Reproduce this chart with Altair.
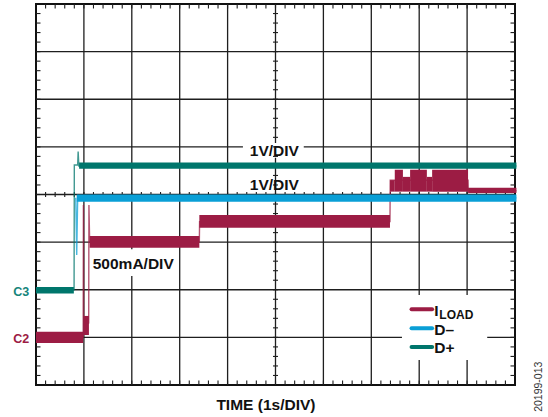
import altair as alt
import pandas as pd

# ---------------- data (oscilloscope divisions: x 0..10, y 0..8) ----------------
SERIES = ["ILOAD", "D-", "D+"]
COLORS = ["#9c1c44", "#0a9fd6", "#00766c"]

# thin trace paths
IL_X = [0.0, 0.985, 0.99, 0.995, 1.10, 1.105, 1.12, 3.41, 3.415, 7.39, 7.395, 9.02, 9.025, 10.03]
IL_Y = [1.0, 1.0, 3.78, 1.25, 1.30, 3.78, 3.0, 3.0, 3.43, 3.43, 4.30, 4.30, 4.08, 4.08]
DM_X = [0.83, 0.85, 0.87, 10.03]
DM_Y = [3.93, 2.73, 3.93, 3.93]
DP_X = [0.0, 0.795, 0.80, 0.87, 0.88, 0.895, 10.03]
DP_Y = [2.0, 2.0, 4.62, 4.62, 4.90, 4.60, 4.60]

# noisy bands of each trace: start, end, low, high
IL_B0 = [0.0, 0.99, 1.12, 3.41, 7.39, 7.49, 7.66, 7.81, 8.16, 8.27, 9.02]
IL_B1 = [0.985, 1.105, 3.41, 7.39, 7.49, 7.66, 7.81, 8.16, 8.27, 9.02, 10.03]
IL_LO = [0.88, 1.05, 2.88, 3.30, 4.06, 4.06, 4.06, 4.06, 4.06, 4.06, 4.03]
IL_HI = [1.12, 1.45, 3.13, 3.57, 4.30, 4.52, 4.37, 4.52, 4.37, 4.52, 4.14]
DM_B0, DM_B1, DM_LO, DM_HI = [0.85], [10.03], [3.85], [4.00]
DP_B0, DP_B1, DP_LO, DP_HI = [0.0, 0.90], [0.79, 10.03], [1.92, 4.54], [2.06, 4.67]

GRID_X = [1, 2, 3, 4, 5, 6, 7, 8, 9]
GRID_Y = [1, 2, 3, 4, 5, 6, 7]
MINOR_X = [i / 5 for i in range(1, 50)]
MINOR_Y = [i / 5 for i in range(1, 40)]

# ---------------- layout ----------------
W, H = 479, 381
FONT = "Liberation Sans"
xs = alt.Scale(domain=[0, 10], nice=False, zero=False)
ys = alt.Scale(domain=[0, 8], nice=False, zero=False)
GRID = "#1e1e1e"


def X(f="x"):
    return alt.X(f + ":Q", scale=xs, axis=None)


def Y(f="y"):
    return alt.Y(f + ":Q", scale=ys, axis=None)


layers = []

# grid lines
layers.append(alt.Chart(pd.DataFrame({"x": GRID_X})).mark_rule(color=GRID, strokeWidth=1.3).encode(x=X()))
layers.append(alt.Chart(pd.DataFrame({"y": GRID_Y})).mark_rule(color=GRID, strokeWidth=1.3).encode(y=Y()))

# white boxes behind labels
boxes = pd.DataFrame({
    "x": [4.32, 1.15, 7.64],
    "x2": [5.59, 2.95, 9.42],
    "y": [4.77, 2.29, 0.525],
    "y2": [5.08, 2.85, 1.89],
})
layers.append(alt.Chart(boxes).mark_rect(color="white").encode(x=X(), x2="x2:Q", y=Y(), y2="y2:Q"))

# minor ticks along frame and centre lines
tx = pd.DataFrame({"x": MINOR_X})
ty = pd.DataFrame({"y": MINOR_Y})
tk = dict(color=GRID, strokeWidth=1.1)
layers += [
    alt.Chart(tx).mark_rule(**tk).encode(x=X(), y=alt.value(0), y2=alt.value(4.5)),
    alt.Chart(tx).mark_rule(**tk).encode(x=X(), y=alt.value(H - 4.5), y2=alt.value(H)),
    alt.Chart(tx).mark_rule(**tk).encode(x=X(), y=alt.value(H / 2 - 2.5), y2=alt.value(H / 2 + 2.5)),
    alt.Chart(ty).mark_rule(**tk).encode(y=Y(), x=alt.value(0), x2=alt.value(4.5)),
    alt.Chart(ty).mark_rule(**tk).encode(y=Y(), x=alt.value(W - 4.5), x2=alt.value(W)),
    alt.Chart(ty).mark_rule(**tk).encode(y=Y(), x=alt.value(W / 2 - 2.5), x2=alt.value(W / 2 + 2.5)),
]


def trace(px, py, b0, b1, lo, hi, color):
    line = alt.Chart(pd.DataFrame({"x": px, "y": py, "o": list(range(len(px)))})).mark_line(
        color=color, strokeWidth=1.4, opacity=0.75, clip=False
    ).encode(x=X(), y=Y(), order="o:Q")
    band = alt.Chart(pd.DataFrame({"x": b0, "x2": b1, "y": lo, "y2": hi})).mark_rect(
        color=color, clip=False
    ).encode(x=X(), x2="x2:Q", y=Y(), y2="y2:Q")
    return [line, band]


layers += trace(IL_X, IL_Y, IL_B0, IL_B1, IL_LO, IL_HI, COLORS[0])
layers += trace(DM_X, DM_Y, DM_B0, DM_B1, DM_LO, DM_HI, COLORS[1])
layers += trace(DP_X, DP_Y, DP_B0, DP_B1, DP_LO, DP_HI, COLORS[2])


def txt(x, y, s, size, color="#111111", weight="bold", align="left", baseline="alphabetic", angle=0):
    return alt.Chart(pd.DataFrame({"x": [x], "y": [y], "t": [s]})).mark_text(
        font=FONT, fontSize=size, fontWeight=weight, color=color, align=align,
        baseline=baseline, angle=angle, clip=False
    ).encode(x=X(), y=Y(), text="t:N")


layers += [
    txt(4.975, 4.80, "1V/DIV", 15.5, align="center"),
    txt(4.975, 4.10, "1V/DIV", 15.5, align="center"),
    txt(2.03, 2.44, "500mA/DIV", 15.5, align="center"),
    txt(-0.14, 1.87, "C3", 12.5, color="#15857b", align="right"),
    txt(-0.14, 0.876, "C2", 12.5, color=COLORS[0], align="right"),
    txt(4.8, -0.525, "TIME (1s/DIV)", 15.5, align="center"),
    txt(10.5, -0.036, "20199-013", 10.5, color="#333333", weight="normal", align="center",
        baseline="middle", angle=270),
]

# legend
leg = pd.DataFrame({"x": [7.84] * 3, "x2": [8.27] * 3, "y": [1.59, 1.19, 0.80], "c": SERIES})
layers.append(alt.Chart(leg).mark_rule(strokeWidth=4, strokeCap="round").encode(
    x=X(), x2="x2:Q", y=Y(),
    color=alt.Color("c:N", scale=alt.Scale(domain=SERIES, range=COLORS), legend=None)))
layers += [
    txt(8.315, 1.45, "I", 15.5),
    txt(8.42, 1.38, "LOAD", 12),
    txt(8.315, 1.05, "D\u2013", 15.5),
    txt(8.315, 0.68, "D+", 15.5),
]

chart = alt.layer(*layers).properties(
    width=W, height=H,
    padding={"left": 36, "top": 4, "right": 33, "bottom": 32},
    autosize=alt.AutoSizeParams(type="none"),
    background="white",
).configure_view(stroke="#111111", strokeWidth=2)

chart.save("out.html", embed_options={"renderer": "svg", "actions": False})
